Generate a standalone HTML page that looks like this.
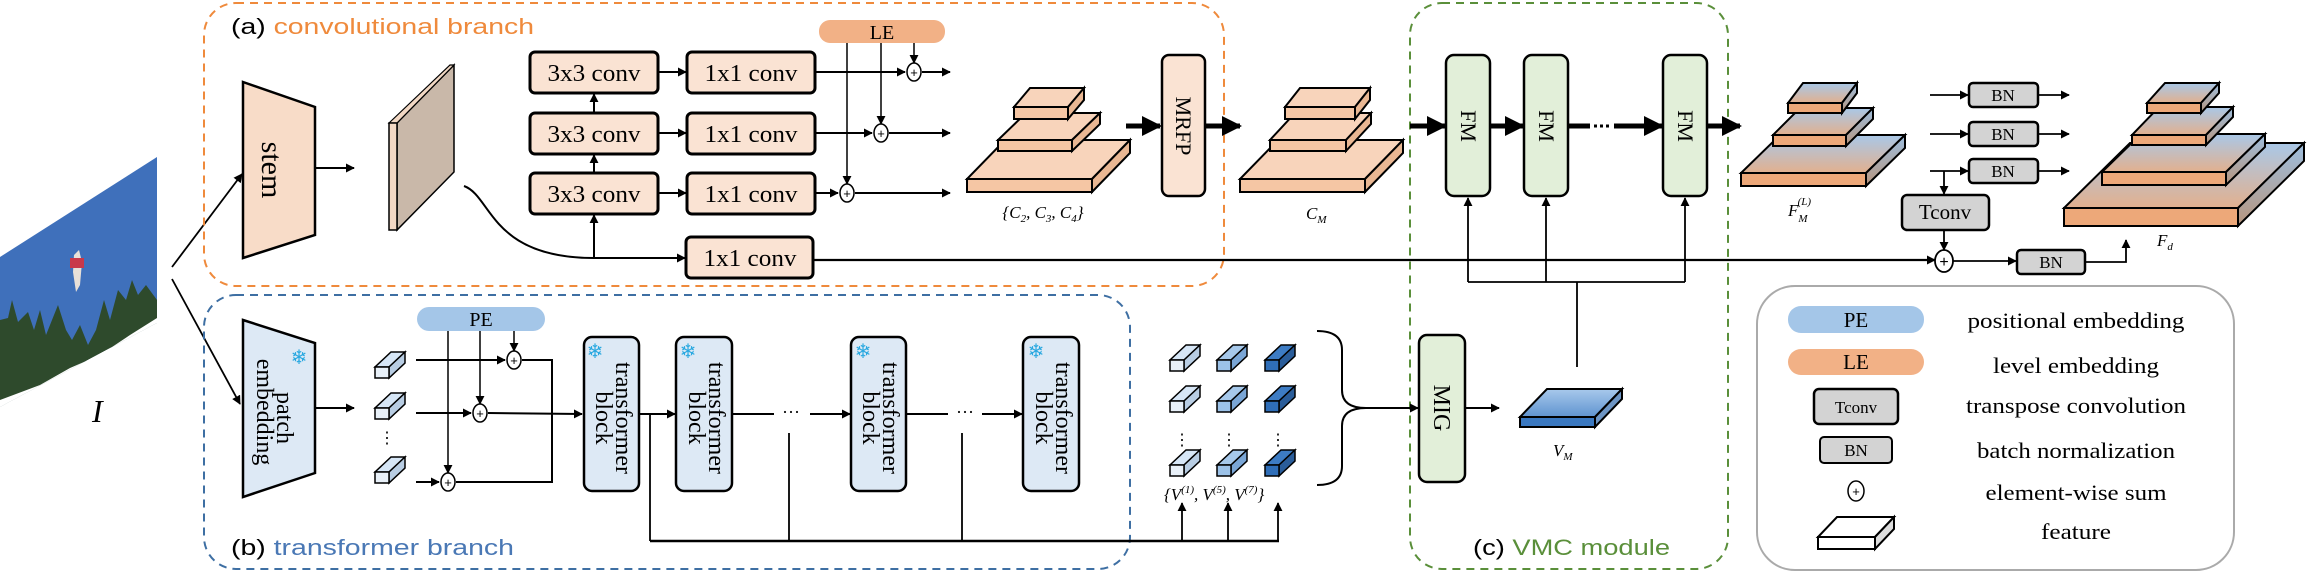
<!DOCTYPE html>
<html><head><meta charset="utf-8"><style>
html,body{margin:0;padding:0;background:#fff;}
svg{display:block;}
.s{font-family:"Liberation Serif",serif;}
.a{font-family:"Liberation Sans","DejaVu Sans",sans-serif;}
</style></head><body>
<svg width="2317" height="573" viewBox="0 0 2317 573" xmlns="http://www.w3.org/2000/svg">
<defs>
<marker id="ar" viewBox="0 0 10 10" refX="9" refY="5" markerWidth="9" markerHeight="9" markerUnits="userSpaceOnUse" orient="auto"><path d="M0,0 L10,5 L0,10 z" fill="#000"/></marker>
<marker id="tar" viewBox="0 0 10 10" refX="9" refY="5" markerWidth="4" markerHeight="5" orient="auto"><path d="M0,0 L10,5 L0,10 z" fill="#000"/></marker>
<linearGradient id="fg" x1="0" y1="0" x2="0" y2="1"><stop offset="0" stop-color="#a9c8e8"/><stop offset="1" stop-color="#e2b08e"/></linearGradient>
<linearGradient id="fs" x1="0" y1="0" x2="0" y2="1"><stop offset="0" stop-color="#9dbfe0"/><stop offset="1" stop-color="#b7957d"/></linearGradient>
<linearGradient id="vm" x1="0" y1="0" x2="0" y2="1"><stop offset="0" stop-color="#a8c9ec"/><stop offset="1" stop-color="#5f93cf"/></linearGradient>
<g id="tk1"><polygon points="0,0 14,0 30,-15 16,-15" fill="#d6e6f6" stroke="#000" stroke-width="1.5"/><polygon points="14,0 30,-15 30,-4 14,11" fill="#b8cde3" stroke="#000" stroke-width="1.5"/><rect x="0" y="0" width="14" height="11" fill="#e8f0f8" stroke="#000" stroke-width="1.5"/></g>
<g id="tk2"><polygon points="0,0 14,0 30,-15 16,-15" fill="#a6c8ea" stroke="#000" stroke-width="1.5"/><polygon points="14,0 30,-15 30,-4 14,11" fill="#7aa6d6" stroke="#000" stroke-width="1.5"/><rect x="0" y="0" width="14" height="11" fill="#9cc2e8" stroke="#000" stroke-width="1.5"/></g>
<g id="tk3"><polygon points="0,0 14,0 30,-15 16,-15" fill="#3d7cc4" stroke="#000" stroke-width="1.5"/><polygon points="14,0 30,-15 30,-4 14,11" fill="#2a5d9a" stroke="#000" stroke-width="1.5"/><rect x="0" y="0" width="14" height="11" fill="#2f6eb8" stroke="#000" stroke-width="1.5"/></g>
</defs>

<!-- input image -->
<polygon points="0,257 157,157 157,323 0,407" fill="#3f70bb"/>
<path d="M0,320 L8,318 L12,300 L18,322 L28,312 L34,330 L40,310 L46,335 L58,305 L66,330 L72,340 L80,325 L88,345 L96,330 L104,300 L110,320 L118,290 L126,300 L132,280 L138,295 L146,285 L157,300 L157,323 L0,407z" fill="#2e4a2c"/>
<path d="M0,400 L40,385 L70,368 L100,355 L130,335 L157,318 L157,323 L0,407z" fill="#fff"/>
<path d="M0,407 L157,323 L157,330 L0,415z" fill="#fff"/>
<polygon points="74,255 79,250 82,262 80,285 76,292 73,272" fill="#e8e0d8"/>
<rect x="70" y="258" width="14" height="10" fill="#c8384a"/>
<text x="92" y="422" class="s" font-size="32" font-style="italic">I</text>
<line x1="172" y1="267" x2="242" y2="174" stroke="#000" stroke-width="1.8" marker-end="url(#ar)"/>
<line x1="172" y1="279" x2="240" y2="404" stroke="#000" stroke-width="1.8" marker-end="url(#ar)"/>

<!-- branch boxes -->
<rect x="204" y="3" width="1020" height="283" rx="32" fill="none" stroke="#ef8a3c" stroke-width="2" stroke-dasharray="8,6"/>
<rect x="204" y="295" width="926" height="274" rx="32" fill="none" stroke="#3e6fa3" stroke-width="2" stroke-dasharray="8,6"/>
<rect x="1410" y="3" width="318" height="566" rx="32" fill="none" stroke="#5a8f3a" stroke-width="2" stroke-dasharray="8,6"/>
<rect x="1757" y="286" width="477" height="284" rx="38" fill="none" stroke="#aaa" stroke-width="2"/>
<text x="231" y="34" class="a" font-size="22" textLength="303" lengthAdjust="spacingAndGlyphs">(a) <tspan fill="#ef8a3c">convolutional branch</tspan></text>
<text x="231" y="555" class="a" font-size="22" textLength="283" lengthAdjust="spacingAndGlyphs">(b) <tspan fill="#4a78b5">transformer branch</tspan></text>
<text x="1473" y="555" class="a" font-size="22" textLength="197" lengthAdjust="spacingAndGlyphs">(c) <tspan fill="#5a8f3a">VMC module</tspan></text>

<!-- stem -->
<polygon points="243,82 315,107 315,235 243,258" fill="#f8dcc8" stroke="#000" stroke-width="2.5"/>
<text transform="translate(262,170) rotate(90)" class="s" font-size="30" text-anchor="middle">stem</text>
<line x1="315" y1="168" x2="354" y2="168" stroke="#000" stroke-width="2" marker-end="url(#ar)"/>
<polygon points="397,123 454,65 454,172 397,230" fill="#c9b8a9" stroke="#000" stroke-width="1.5"/>
<polygon points="389,123 450,65 454,65 397,123" fill="#f2d8c4" stroke="#000" stroke-width="1.2"/>
<rect x="389" y="123" width="8" height="107" fill="#f2d8c4" stroke="#000" stroke-width="1.5"/>

<!-- conv boxes -->
<g fill="#fae3d3" stroke="#000" stroke-width="3">
<rect x="530" y="52" width="128" height="41" rx="5"/><rect x="530" y="113" width="128" height="41" rx="5"/><rect x="530" y="173" width="128" height="41" rx="5"/>
<rect x="687" y="52" width="128" height="41" rx="5"/><rect x="687" y="113" width="128" height="41" rx="5"/><rect x="687" y="173" width="128" height="41" rx="5"/>
<rect x="686" y="237" width="127" height="41" rx="5"/>
</g>
<g class="s" font-size="24" text-anchor="middle">
<text x="594" y="81" textLength="93" lengthAdjust="spacingAndGlyphs">3x3 conv</text>
<text x="594" y="142" textLength="93" lengthAdjust="spacingAndGlyphs">3x3 conv</text>
<text x="594" y="202" textLength="93" lengthAdjust="spacingAndGlyphs">3x3 conv</text>
<text x="751" y="81" textLength="93" lengthAdjust="spacingAndGlyphs">1x1 conv</text>
<text x="751" y="142" textLength="93" lengthAdjust="spacingAndGlyphs">1x1 conv</text>
<text x="751" y="202" textLength="93" lengthAdjust="spacingAndGlyphs">1x1 conv</text>
<text x="750" y="266" textLength="93" lengthAdjust="spacingAndGlyphs">1x1 conv</text>
</g>
<g stroke="#000" stroke-width="2" fill="none">
<line x1="658" y1="72" x2="686" y2="72" marker-end="url(#ar)"/>
<line x1="658" y1="133" x2="686" y2="133" marker-end="url(#ar)"/>
<line x1="658" y1="193" x2="686" y2="193" marker-end="url(#ar)"/>
<line x1="594" y1="113" x2="594" y2="94" marker-end="url(#ar)"/>
<line x1="594" y1="173" x2="594" y2="155" marker-end="url(#ar)"/>
<line x1="594" y1="258" x2="594" y2="215" marker-end="url(#ar)"/>
<path d="M464,186 C492,196 490,258 594,258 L685,258" marker-end="url(#ar)"/>
<line x1="815" y1="72" x2="905" y2="72" marker-end="url(#ar)"/><line x1="922" y1="72" x2="950" y2="72" marker-end="url(#ar)"/>
<line x1="815" y1="133" x2="872" y2="133" marker-end="url(#ar)"/><line x1="889" y1="133" x2="950" y2="133" marker-end="url(#ar)"/>
<line x1="815" y1="193" x2="838" y2="193" marker-end="url(#ar)"/><line x1="855" y1="193" x2="950" y2="193" marker-end="url(#ar)"/>
<line x1="847" y1="43" x2="847" y2="184" stroke-width="1.5" marker-end="url(#ar)"/>
<line x1="881" y1="43" x2="881" y2="124" stroke-width="1.5" marker-end="url(#ar)"/>
<line x1="914" y1="43" x2="914" y2="63" stroke-width="1.5" marker-end="url(#ar)"/>
</g>
<rect x="819" y="20" width="126" height="23" rx="11" fill="#f2b186"/>
<text x="882" y="39" class="s" font-size="20" text-anchor="middle">LE</text>
<g fill="#fff" stroke="#000" stroke-width="1.5"><ellipse cx="914" cy="72" rx="7" ry="9"/><ellipse cx="881" cy="133" rx="7" ry="9"/><ellipse cx="847" cy="193" rx="7" ry="9"/></g>
<g class="a" font-size="13" text-anchor="middle"><text x="914" y="77">+</text><text x="881" y="138">+</text><text x="847" y="198">+</text></g>

<!-- C pyramid -->
<g stroke="#000" stroke-width="2">
<polygon points="967,179 1092,179 1130,140 1005,140" fill="#f8d4bb"/><polygon points="1092,179 1130,140 1130,153 1092,192" fill="#e9b793"/><rect x="967" y="179" width="125" height="13" fill="#f5c6a4"/>
<polygon points="998,140 1072,140 1100,113 1026,113" fill="#f8d4bb"/><polygon points="1072,140 1100,113 1100,124 1072,151" fill="#e9b793"/><rect x="998" y="140" width="74" height="11" fill="#f5c6a4"/>
<polygon points="1014,107 1068,107 1084,88 1030,88" fill="#f8d4bb"/><polygon points="1068,107 1084,88 1084,100 1068,119" fill="#e9b793"/><rect x="1014" y="107" width="54" height="12" fill="#f5c6a4"/>
</g>
<text x="1043" y="218" class="s" font-size="17" font-style="italic" text-anchor="middle">{C<tspan font-size="11" dy="4">2</tspan><tspan dy="-4">, C</tspan><tspan font-size="11" dy="4">3</tspan><tspan dy="-4">, C</tspan><tspan font-size="11" dy="4">4</tspan><tspan dy="-4">}</tspan></text>
<line x1="1126" y1="126" x2="1160" y2="126" stroke="#000" stroke-width="5" marker-end="url(#tar)"/>
<rect x="1162" y="55" width="43" height="141" rx="7" fill="#fae3d3" stroke="#000" stroke-width="2.5"/>
<text transform="translate(1176,126) rotate(90)" class="s" font-size="22" text-anchor="middle">MRFP</text>
<line x1="1205" y1="126" x2="1240" y2="126" stroke="#000" stroke-width="5" marker-end="url(#tar)"/>
<g stroke="#000" stroke-width="2">
<polygon points="1240,179 1365,179 1403,140 1278,140" fill="#f8d4bb"/><polygon points="1365,179 1403,140 1403,153 1365,192" fill="#e9b793"/><rect x="1240" y="179" width="125" height="13" fill="#f5c6a4"/>
<polygon points="1270,140 1346,140 1371,113 1295,113" fill="#f8d4bb"/><polygon points="1346,140 1371,113 1371,124 1346,151" fill="#e9b793"/><rect x="1270" y="140" width="76" height="11" fill="#f5c6a4"/>
<polygon points="1285,107 1355,107 1370,88 1300,88" fill="#f8d4bb"/><polygon points="1355,107 1370,88 1370,100 1355,119" fill="#e9b793"/><rect x="1285" y="107" width="70" height="12" fill="#f5c6a4"/>
</g>
<text x="1306" y="219" class="s" font-size="17" font-style="italic">C<tspan font-size="11" dy="4">M</tspan></text>

<!-- FM -->
<g stroke="#000" stroke-width="5">
<line x1="1410" y1="126" x2="1445" y2="126" marker-end="url(#tar)"/>
<line x1="1490" y1="126" x2="1523" y2="126" marker-end="url(#tar)"/>
<line x1="1568" y1="126" x2="1590" y2="126"/>
<line x1="1594" y1="126" x2="1612" y2="126" stroke-dasharray="3,3" stroke-width="3"/>
<line x1="1614" y1="126" x2="1662" y2="126" marker-end="url(#tar)"/>
<line x1="1707" y1="126" x2="1740" y2="126" marker-end="url(#tar)"/>
</g>
<g fill="#e2efd9" stroke="#000" stroke-width="2.5">
<rect x="1446" y="55" width="44" height="141" rx="8"/><rect x="1524" y="55" width="44" height="141" rx="8"/><rect x="1663" y="55" width="44" height="141" rx="8"/>
</g>
<g class="s" font-size="22" text-anchor="middle">
<text transform="translate(1461,126) rotate(90)">FM</text><text transform="translate(1539,126) rotate(90)">FM</text><text transform="translate(1678,126) rotate(90)">FM</text>
</g>
<g stroke="#000" stroke-width="1.8" fill="none">
<line x1="1468" y1="282" x2="1468" y2="198" marker-end="url(#ar)"/>
<line x1="1546" y1="282" x2="1546" y2="198" marker-end="url(#ar)"/>
<line x1="1685" y1="282" x2="1685" y2="198" marker-end="url(#ar)"/>
<line x1="1468" y1="282" x2="1685" y2="282"/>
<line x1="1577" y1="282" x2="1577" y2="367"/>
</g>
<g stroke="#000" stroke-width="2">
<polygon points="1741,173 1866,173 1905,135 1780,135" fill="url(#fg)"/><polygon points="1866,173 1905,135 1905,148 1866,186" fill="url(#fs)"/><rect x="1741" y="173" width="125" height="13" fill="#eda879"/>
<polygon points="1773,135 1846,135 1873,108 1800,108" fill="url(#fg)"/><polygon points="1846,135 1873,108 1873,119 1846,146" fill="url(#fs)"/><rect x="1773" y="135" width="73" height="11" fill="#eda879"/>
<polygon points="1788,103 1842,103 1857,83 1803,83" fill="url(#fg)"/><polygon points="1842,103 1857,83 1857,93 1842,113" fill="url(#fs)"/><rect x="1788" y="103" width="54" height="10" fill="#eda879"/>
</g>
<text x="1788" y="216" class="s" font-size="17" font-style="italic">F<tspan font-size="11" dy="6">M</tspan><tspan font-size="11" dx="-10" dy="-17">(L)</tspan></text>
<g fill="#d3d3d3" stroke="#000" stroke-width="2.5">
<rect x="1969" y="83" width="69" height="24" rx="4"/><rect x="1969" y="122" width="69" height="24" rx="4"/><rect x="1969" y="159" width="69" height="24" rx="4"/>
<rect x="1902" y="195" width="87" height="35" rx="5"/>
<rect x="2017" y="250" width="68" height="24" rx="4"/>
</g>
<g class="s" font-size="17" text-anchor="middle">
<text x="2003" y="101">BN</text><text x="2003" y="140">BN</text><text x="2003" y="177">BN</text><text x="2051" y="268">BN</text>
<text x="1945" y="219" font-size="21">Tconv</text>
</g>
<g stroke="#000" stroke-width="1.8" fill="none">
<line x1="1930" y1="95" x2="1968" y2="95" marker-end="url(#ar)"/><line x1="2038" y1="95" x2="2069" y2="95" marker-end="url(#ar)"/>
<line x1="1930" y1="134" x2="1968" y2="134" marker-end="url(#ar)"/><line x1="2038" y1="134" x2="2069" y2="134" marker-end="url(#ar)"/>
<line x1="1930" y1="171" x2="1968" y2="171" marker-end="url(#ar)"/><line x1="2038" y1="171" x2="2069" y2="171" marker-end="url(#ar)"/>
<line x1="1944" y1="171" x2="1944" y2="194" marker-end="url(#ar)"/>
<line x1="1944" y1="230" x2="1944" y2="250" marker-end="url(#ar)"/>
<line x1="813" y1="260" x2="1935" y2="260" stroke-width="2.2" marker-end="url(#ar)"/>
<line x1="1953" y1="261" x2="2016" y2="261" marker-end="url(#ar)"/>
<path d="M2085,262 L2126,262 L2126,240" marker-end="url(#ar)"/>
</g>
<ellipse cx="1944" cy="261" rx="9" ry="11" fill="#fff" stroke="#000" stroke-width="1.8"/>
<text x="1944" y="267" class="a" font-size="16" text-anchor="middle">+</text>
<g stroke="#000" stroke-width="2">
<polygon points="2064,208 2238,208 2304,143 2130,143" fill="url(#fg)"/><polygon points="2238,208 2304,143 2304,161 2238,226" fill="url(#fs)"/><rect x="2064" y="208" width="174" height="18" fill="#eda879"/>
<polygon points="2102,172 2226,172 2265,134 2141,134" fill="url(#fg)"/><polygon points="2226,172 2265,134 2265,147 2226,185" fill="url(#fs)"/><rect x="2102" y="172" width="124" height="13" fill="#eda879"/>
<polygon points="2132,135 2206,135 2233,107 2159,107" fill="url(#fg)"/><polygon points="2206,135 2233,107 2233,117 2206,145" fill="url(#fs)"/><rect x="2132" y="135" width="74" height="10" fill="#eda879"/>
<polygon points="2147,103 2201,103 2219,83 2165,83" fill="url(#fg)"/><polygon points="2201,103 2219,83 2219,93 2201,113" fill="url(#fs)"/><rect x="2147" y="103" width="54" height="10" fill="#eda879"/>
</g>
<text x="2157" y="246" class="s" font-size="17" font-style="italic">F<tspan font-size="11" dy="4">d</tspan></text>

<!-- transformer branch -->
<polygon points="243,320 315,343 315,473 243,497" fill="#dde9f5" stroke="#000" stroke-width="2.5"/>
<text x="299" y="364" class="a" font-size="20" fill="#29a8e0" text-anchor="middle">❄</text>
<text transform="translate(277,418) rotate(90)" class="s" font-size="24" text-anchor="middle">patch</text>
<text transform="translate(257,412) rotate(90)" class="s" font-size="24" text-anchor="middle">embedding</text>
<line x1="315" y1="408" x2="354" y2="408" stroke="#000" stroke-width="2" marker-end="url(#ar)"/>
<use href="#tk1" x="375" y="367"/><use href="#tk1" x="375" y="408"/><use href="#tk1" x="375" y="472"/>
<text x="387" y="443" class="s" font-size="16" text-anchor="middle">⋮</text>
<rect x="417" y="307" width="128" height="24" rx="12" fill="#a4c6e8"/>
<text x="481" y="326" class="s" font-size="20" text-anchor="middle">PE</text>
<g stroke="#000" stroke-width="2" fill="none">
<line x1="416" y1="360" x2="505" y2="360" marker-end="url(#ar)"/>
<line x1="416" y1="413" x2="471" y2="413" marker-end="url(#ar)"/>
<line x1="416" y1="482" x2="439" y2="482" marker-end="url(#ar)"/>
<line x1="448" y1="331" x2="448" y2="473" stroke-width="1.5" marker-end="url(#ar)"/>
<line x1="480" y1="331" x2="480" y2="404" stroke-width="1.5" marker-end="url(#ar)"/>
<line x1="514" y1="331" x2="514" y2="351" stroke-width="1.5" marker-end="url(#ar)"/>
<path d="M522,360 L552,360 L552,482 L456,482"/>
<line x1="488" y1="413" x2="582" y2="414" marker-end="url(#ar)"/>
<line x1="639" y1="414" x2="675" y2="414" marker-end="url(#ar)"/>
<line x1="732" y1="414" x2="774" y2="414"/>
<line x1="810" y1="414" x2="850" y2="414" marker-end="url(#ar)"/>
<line x1="906" y1="414" x2="948" y2="414"/>
<line x1="982" y1="414" x2="1022" y2="414" marker-end="url(#ar)"/>
</g>
<g class="s" font-size="18" text-anchor="middle"><text x="791" y="418">···</text><text x="965" y="418">···</text></g>
<g fill="#fff" stroke="#000" stroke-width="1.5"><ellipse cx="514" cy="360" rx="7" ry="9"/><ellipse cx="480" cy="413" rx="7" ry="9"/><ellipse cx="448" cy="482" rx="7" ry="9"/></g>
<g class="a" font-size="13" text-anchor="middle"><text x="514" y="365">+</text><text x="480" y="418">+</text><text x="448" y="487">+</text></g>
<g fill="#dde9f5" stroke="#000" stroke-width="2.5">
<rect x="584" y="337" width="55" height="154" rx="8"/><rect x="676" y="337" width="56" height="154" rx="8"/><rect x="851" y="337" width="55" height="154" rx="8"/><rect x="1023" y="337" width="56" height="154" rx="8"/>
</g>
<g class="a" font-size="20" fill="#29a8e0" text-anchor="middle"><text x="595" y="358">❄</text><text x="688" y="358">❄</text><text x="863" y="358">❄</text><text x="1036" y="358">❄</text></g>
<g class="s" font-size="24" text-anchor="middle">
<text transform="translate(616,418) rotate(90)">transformer</text><text transform="translate(596,418) rotate(90)">block</text>
<text transform="translate(709,418) rotate(90)">transformer</text><text transform="translate(689,418) rotate(90)">block</text>
<text transform="translate(883,418) rotate(90)">transformer</text><text transform="translate(863,418) rotate(90)">block</text>
<text transform="translate(1056,418) rotate(90)">transformer</text><text transform="translate(1036,418) rotate(90)">block</text>
</g>
<g stroke="#000" stroke-width="1.8" fill="none">
<line x1="650" y1="414" x2="650" y2="541"/><line x1="789" y1="433" x2="789" y2="541"/><line x1="962" y1="433" x2="962" y2="541"/>
<line x1="650" y1="541" x2="1279" y2="541" stroke-width="2.5"/>
<line x1="1182" y1="541" x2="1182" y2="503" marker-end="url(#ar)"/>
<line x1="1228" y1="541" x2="1228" y2="503" marker-end="url(#ar)"/>
<line x1="1278" y1="541" x2="1278" y2="503" marker-end="url(#ar)"/>
</g>
<use href="#tk1" x="1170" y="360"/><use href="#tk2" x="1217" y="360"/><use href="#tk3" x="1265" y="360"/>
<use href="#tk1" x="1170" y="401"/><use href="#tk2" x="1217" y="401"/><use href="#tk3" x="1265" y="401"/>
<use href="#tk1" x="1170" y="465"/><use href="#tk2" x="1217" y="465"/><use href="#tk3" x="1265" y="465"/>
<g class="s" font-size="16" text-anchor="middle"><text x="1182" y="445">⋮</text><text x="1229" y="445">⋮</text><text x="1278" y="445">⋮</text></g>
<text x="1164" y="500" class="s" font-size="17" font-style="italic">{V<tspan font-size="11" dy="-7">(1)</tspan><tspan dy="7">, V</tspan><tspan font-size="11" dy="-7">(5)</tspan><tspan dy="7">, V</tspan><tspan font-size="11" dy="-7">(7)</tspan><tspan dy="7">}</tspan></text>
<path d="M1317,331 Q1342,331 1342,350 L1342,390 Q1342,408 1366,408 Q1342,408 1342,426 L1342,466 Q1342,485 1317,485" fill="none" stroke="#000" stroke-width="2"/>
<line x1="1366" y1="408" x2="1418" y2="408" stroke="#000" stroke-width="2" marker-end="url(#ar)"/>
<rect x="1419" y="335" width="46" height="147" rx="8" fill="#e2efd9" stroke="#000" stroke-width="2.5"/>
<text transform="translate(1434,408) rotate(90)" class="s" font-size="24" text-anchor="middle">MIG</text>
<line x1="1465" y1="408" x2="1499" y2="408" stroke="#000" stroke-width="2" marker-end="url(#ar)"/>
<g stroke="#000" stroke-width="2">
<polygon points="1520,417 1595,417 1622,389 1547,389" fill="url(#vm)"/><polygon points="1595,417 1622,389 1622,399 1595,427" fill="#6d95c4"/><rect x="1520" y="417" width="75" height="10" fill="#3a78c0"/>
</g>
<text x="1553" y="456" class="s" font-size="17" font-style="italic">V<tspan font-size="11" dy="4">M</tspan></text>

<!-- legend -->
<rect x="1788" y="306" width="136" height="27" rx="13" fill="#a4c6e8"/>
<text x="1856" y="327" class="s" font-size="21" text-anchor="middle">PE</text>
<rect x="1788" y="349" width="136" height="26" rx="13" fill="#f2b186"/>
<text x="1856" y="369" class="s" font-size="21" text-anchor="middle">LE</text>
<rect x="1814" y="389" width="84" height="35" rx="5" fill="#d3d3d3" stroke="#000" stroke-width="2.5"/>
<text x="1856" y="413" class="s" font-size="17" text-anchor="middle">Tconv</text>
<rect x="1820" y="437" width="72" height="26" rx="4" fill="#d3d3d3" stroke="#000" stroke-width="2"/>
<text x="1856" y="456" class="s" font-size="17" text-anchor="middle">BN</text>
<ellipse cx="1856" cy="491" rx="8" ry="10" fill="#fff" stroke="#000" stroke-width="1.5"/>
<text x="1856" y="496" class="a" font-size="13" text-anchor="middle">+</text>
<g stroke="#000" stroke-width="2">
<polygon points="1818,537 1875,537 1894,517 1837,517" fill="#fff"/><polygon points="1875,537 1894,517 1894,529 1875,549" fill="#ddd"/><rect x="1818" y="537" width="57" height="12" fill="#fff"/>
</g>
<g class="s" font-size="22" text-anchor="middle">
<text x="2076" y="328" textLength="217" lengthAdjust="spacingAndGlyphs">positional embedding</text>
<text x="2076" y="373" textLength="166" lengthAdjust="spacingAndGlyphs">level embedding</text>
<text x="2076" y="413" textLength="220" lengthAdjust="spacingAndGlyphs">transpose convolution</text>
<text x="2076" y="458" textLength="198" lengthAdjust="spacingAndGlyphs">batch normalization</text>
<text x="2076" y="500" textLength="181" lengthAdjust="spacingAndGlyphs">element-wise sum</text>
<text x="2076" y="539" textLength="70" lengthAdjust="spacingAndGlyphs">feature</text>
</g>
</svg>
</body></html>
